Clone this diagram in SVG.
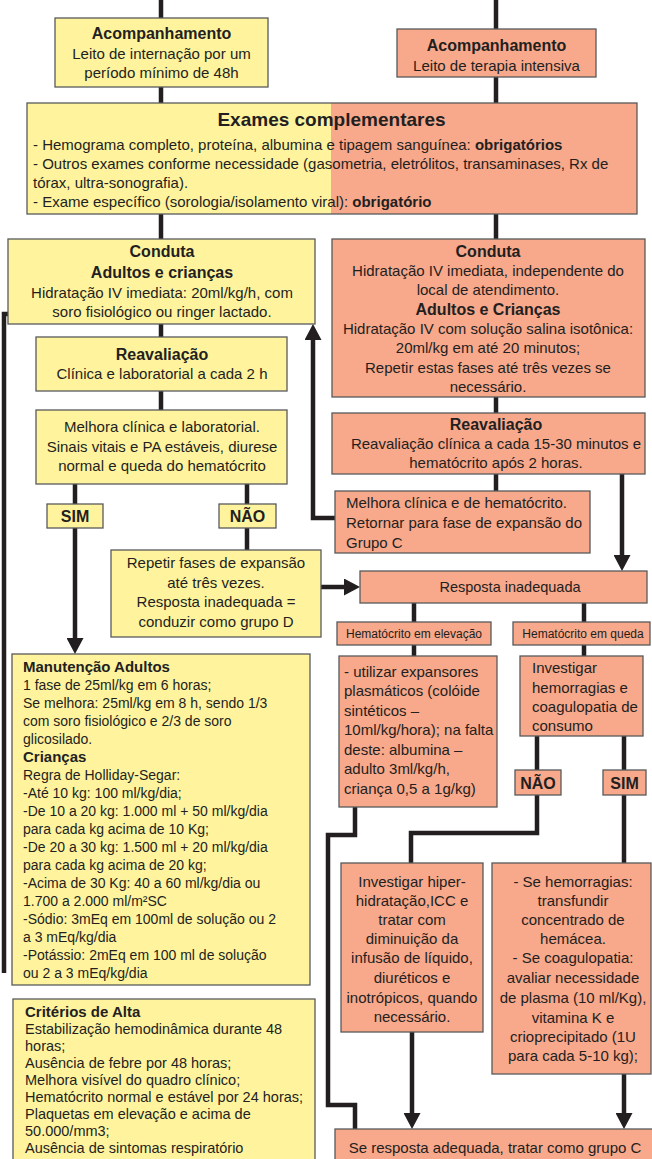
<svg xmlns="http://www.w3.org/2000/svg" width="652" height="1159" viewBox="0 0 652 1159">
<defs>
<style>
.y{fill:#FFF39E;stroke:#58595B;stroke-width:1.3}
.s{fill:#F8A88B;stroke:#58595B;stroke-width:1.3}
text{font-family:"Liberation Sans",Arial,sans-serif;fill:#231F20;font-size:15px}
.b{font-weight:bold}
.c{text-anchor:middle}
.h{font-size:16px;font-weight:bold}
.m{font-size:14px}
.k{font-size:14.5px}
.t{font-size:12px}
.conn{fill:none;stroke:#231F20;stroke-width:4.5}
</style>
<marker id="ah" viewBox="0 0 16 17" refX="8" refY="8.5" markerWidth="16" markerHeight="17" markerUnits="userSpaceOnUse" orient="auto">
<path d="M0,0 L16,8.5 L0,17 z" fill="#231F20"/>
</marker>
</defs>
<rect width="652" height="1159" fill="#FFFFFF"/>

<g id="connectors" class="conn">
<path d="M161,0 V18"/>
<path d="M161,87 V103"/>
<path d="M496,0 V29"/>
<path d="M496,77 V103"/>
<path d="M161,214 V239"/>
<path d="M496,214 V239"/>
<path d="M161,324 V337"/>
<path d="M161,391 V410"/>
<path d="M75,484 V504"/>
<path d="M247,484 V504"/>
<path d="M75,528 V646" marker-end="url(#ah)"/>
<path d="M247,528 V550"/>
<path d="M9,314 H4 V973"/>
<path d="M335,518 H313 V332" marker-end="url(#ah)"/>
<path d="M496,397 V413"/>
<path d="M496,474 V491"/>
<path d="M622,474 V563" marker-end="url(#ah)"/>
<path d="M321,587 H352" marker-end="url(#ah)"/>
<path d="M414,603 V622"/>
<path d="M584,603 V622"/>
<path d="M414,645 V656"/>
<path d="M584,645 V656"/>
<path d="M537,736 V770"/>
<path d="M624,736 V770"/>
<path d="M537,795 V833 H411 V863"/>
<path d="M355,807 V835 H328 V1105 H355 V1129"/>
<path d="M624,795 V863"/>
<path d="M412,1032 V1121" marker-end="url(#ah)"/>
<path d="M624,1074 V1121" marker-end="url(#ah)"/>
</g>

<g id="acomp-left">
<rect class="y" x="55" y="18" width="213" height="69"/>
<text class="c h" x="161.5" y="39">Acompanhamento</text>
<text class="c" x="161.5" y="59">Leito de internação por um</text>
<text class="c" x="161.5" y="78">período mínimo de 48h</text>
</g>

<g id="acomp-right">
<rect class="s" x="397" y="29" width="199" height="48"/>
<text class="c h" x="496.5" y="51">Acompanhamento</text>
<text class="c" x="496.5" y="71">Leito de terapia intensiva</text>
</g>

<g id="exames">
<rect x="27" y="103" width="304" height="111" fill="#FFF39E"/>
<rect x="331" y="103" width="306" height="111" fill="#F8A88B"/>
<rect x="27" y="103" width="610" height="111" fill="none" stroke="#58595B" stroke-width="1.3"/>
<text class="c b" x="331.5" y="126" style="font-size:19px">Exames complementares</text>
<text x="33" y="150">- Hemograma completo, proteína, albumina e tipagem sanguínea: <tspan class="b">obrigatórios</tspan></text>
<text x="33" y="169">- Outros exames conforme necessidade (gasometria, eletrólitos, transaminases, Rx de</text>
<text x="33" y="188">tórax, ultra-sonografia).</text>
<text x="33" y="207">- Exame específico (sorologia/isolamento viral): <tspan class="b">obrigatório</tspan></text>
</g>

<g id="conduta-left">
<rect class="y" x="8" y="239" width="307" height="85"/>
<text class="c h" x="162" y="257">Conduta</text>
<text class="c h" x="162" y="278">Adultos e crianças</text>
<text class="c" x="162" y="298">Hidratação IV imediata: 20ml/kg/h, com</text>
<text class="c" x="162" y="317">soro fisiológico ou ringer lactado.</text>
</g>

<g id="reav-left">
<rect class="y" x="36" y="337" width="251" height="54"/>
<text class="c h" x="162" y="360">Reavaliação</text>
<text class="c" x="162" y="379">Clínica e laboratorial a cada 2 h</text>
</g>

<g id="melhora-left">
<rect class="y" x="36" y="410" width="251" height="74"/>
<text class="c" x="162" y="432">Melhora clínica e laboratorial.</text>
<text class="c" x="162" y="452">Sinais vitais e PA estáveis, diurese</text>
<text class="c" x="162" y="471">normal e queda do hematócrito</text>
</g>

<g id="sim-left">
<rect class="y" x="47" y="504" width="56" height="24"/>
<text class="c h" x="75" y="522">SIM</text>
</g>

<g id="nao-left">
<rect class="y" x="219" y="504" width="57" height="24"/>
<text class="c h" x="247.5" y="522">NÃO</text>
</g>

<g id="conduta-right">
<rect class="s" x="332" y="239" width="313" height="158"/>
<text class="c h" x="488" y="257">Conduta</text>
<text class="c" x="488" y="276">Hidratação IV imediata, independente do</text>
<text class="c" x="488" y="295">local de atendimento.</text>
<text class="c h" x="488" y="315">Adultos e Crianças</text>
<text class="c" x="488" y="334">Hidratação IV com solução salina isotônica:</text>
<text class="c" x="488" y="353">20ml/kg em até 20 minutos;</text>
<text class="c" x="488" y="373">Repetir estas fases até três vezes se</text>
<text class="c" x="488" y="392">necessário.</text>
</g>

<g id="reav-right">
<rect class="s" x="332" y="413" width="313" height="61"/>
<text class="c h" x="496" y="430">Reavaliação</text>
<text class="c" x="496" y="449">Reavaliação clínica a cada 15-30 minutos e</text>
<text class="c" x="496" y="468">hematócrito após 2 horas.</text>
</g>

<g id="melhora-right">
<rect class="s" x="335" y="491" width="255" height="62"/>
<text x="346" y="508">Melhora clínica e de hematócrito.</text>
<text x="346" y="528">Retornar para fase de expansão do</text>
<text x="346" y="548">Grupo C</text>
</g>

<g id="repetir">
<rect class="y" x="111" y="550" width="210" height="87"/>
<text class="c" x="216" y="568">Repetir fases de expansão</text>
<text class="c" x="216" y="588">até três vezes.</text>
<text class="c" x="216" y="607">Resposta inadequada =</text>
<text class="c" x="216" y="627">conduzir como grupo D</text>
</g>

<g id="resposta">
<rect class="s" x="360" y="571" width="287" height="32"/>
<text class="c k" x="510" y="592">Resposta inadequada</text>
</g>

<g id="ht-elev">
<rect class="s" x="337" y="622" width="154" height="23"/>
<text class="c t" x="414" y="638">Hematócrito em elevação</text>
</g>

<g id="ht-queda">
<rect class="s" x="513" y="622" width="137" height="23"/>
<text class="c t" x="583" y="638">Hematócrito em queda</text>
</g>

<g id="utilizar">
<rect class="s" x="339" y="656" width="158" height="151"/>
<text x="344" y="677">- utilizar expansores</text>
<text x="344" y="696">plasmáticos (colóide</text>
<text x="344" y="716">sintéticos –</text>
<text x="344" y="735">10ml/kg/hora); na falta</text>
<text x="344" y="755">deste: albumina –</text>
<text x="344" y="774">adulto 3ml/kg/h,</text>
<text x="344" y="794">criança 0,5 a 1g/kg)</text>
</g>

<g id="investigar-hemo">
<rect class="s" x="520" y="656" width="123" height="80"/>
<text x="532" y="673">Investigar</text>
<text x="532" y="693">hemorragias e</text>
<text x="532" y="712">coagulopatia de</text>
<text x="532" y="731">consumo</text>
</g>

<g id="nao-right">
<rect class="s" x="515" y="770" width="46" height="25"/>
<text class="c h" x="538" y="789">NÃO</text>
</g>

<g id="sim-right">
<rect class="s" x="603" y="770" width="43" height="25"/>
<text class="c h" x="624.5" y="789">SIM</text>
</g>

<g id="investigar-hiper">
<rect class="s" x="341" y="863" width="142" height="169"/>
<text class="c" x="412" y="887">Investigar hiper-</text>
<text class="c" x="412" y="906">hidratação,ICC e</text>
<text class="c" x="412" y="925">tratar com</text>
<text class="c" x="412" y="944">diminuição da</text>
<text class="c" x="412" y="963">infusão de líquido,</text>
<text class="c" x="412" y="983">diuréticos e</text>
<text class="c" x="412" y="1003">inotrópicos, quando</text>
<text class="c" x="412" y="1022">necessário.</text>
</g>

<g id="transfundir">
<rect class="s" x="492" y="863" width="159" height="211"/>
<text class="c" x="573" y="887">- Se hemorragias:</text>
<text class="c" x="573" y="906">transfundir</text>
<text class="c" x="573" y="925">concentrado de</text>
<text class="c" x="573" y="944">hemácea.</text>
<text class="c" x="573" y="963">- Se coagulopatia:</text>
<text class="c" x="573" y="983">avaliar necessidade</text>
<text class="c" x="573" y="1003">de plasma (10 ml/Kg),</text>
<text class="c" x="573" y="1023">vitamina K e</text>
<text class="c" x="573" y="1042">crioprecipitado (1U</text>
<text class="c" x="573" y="1061">para cada 5-10 kg);</text>
</g>

<g id="final">
<rect class="s" x="335" y="1129" width="320" height="40"/>
<text class="c" x="495" y="1153">Se resposta adequada, tratar como grupo C</text>
</g>

<g id="manutencao">
<rect class="y" x="12" y="654" width="298" height="331"/>
<text class="b" x="23" y="672">Manutenção Adultos</text>
<text class="m" x="23" y="690">1 fase de 25ml/kg em 6 horas;</text>
<text class="m" x="23" y="708">Se melhora: 25ml/kg em 8 h, sendo 1/3</text>
<text class="m" x="23" y="726">com soro fisiológico e 2/3 de soro</text>
<text class="m" x="23" y="744">glicosilado.</text>
<text class="b" x="23" y="762">Crianças</text>
<text class="m" x="23" y="780">Regra de Holliday-Segar:</text>
<text class="m" x="23" y="798">-Até 10 kg: 100 ml/kg/dia;</text>
<text class="m" x="23" y="816">-De 10 a 20 kg: 1.000 ml + 50 ml/kg/dia</text>
<text class="m" x="23" y="834">para cada kg acima de 10 Kg;</text>
<text class="m" x="23" y="852">-De 20 a 30 kg: 1.500 ml + 20 ml/kg/dia</text>
<text class="m" x="23" y="870">para cada kg acima de 20 kg;</text>
<text class="m" x="23" y="888">-Acima de 30 Kg: 40 a 60 ml/kg/dia ou</text>
<text class="m" x="23" y="906">1.700 a 2.000 ml/m²SC</text>
<text class="m" x="23" y="924">-Sódio: 3mEq em 100ml de solução ou 2</text>
<text class="m" x="23" y="942">a 3 mEq/kg/dia</text>
<text class="m" x="23" y="960">-Potássio: 2mEq em 100 ml de solução</text>
<text class="m" x="23" y="978">ou 2 a 3 mEq/kg/dia</text>
</g>

<g id="criterios">
<rect class="y" x="13" y="999" width="302" height="170"/>
<text class="b" x="25" y="1017">Critérios de Alta</text>
<text class="k" x="25" y="1034">Estabilização hemodinâmica durante 48</text>
<text class="k" x="25" y="1051">horas;</text>
<text class="k" x="25" y="1068">Ausência de febre por 48 horas;</text>
<text class="k" x="25" y="1085">Melhora visível do quadro clínico;</text>
<text class="k" x="25" y="1102">Hematócrito normal e estável por 24 horas;</text>
<text class="k" x="25" y="1119">Plaquetas em elevação e acima de</text>
<text class="k" x="25" y="1136">50.000/mm3;</text>
<text class="k" x="25" y="1153">Ausência de sintomas respiratório</text>
</g>
</svg>
